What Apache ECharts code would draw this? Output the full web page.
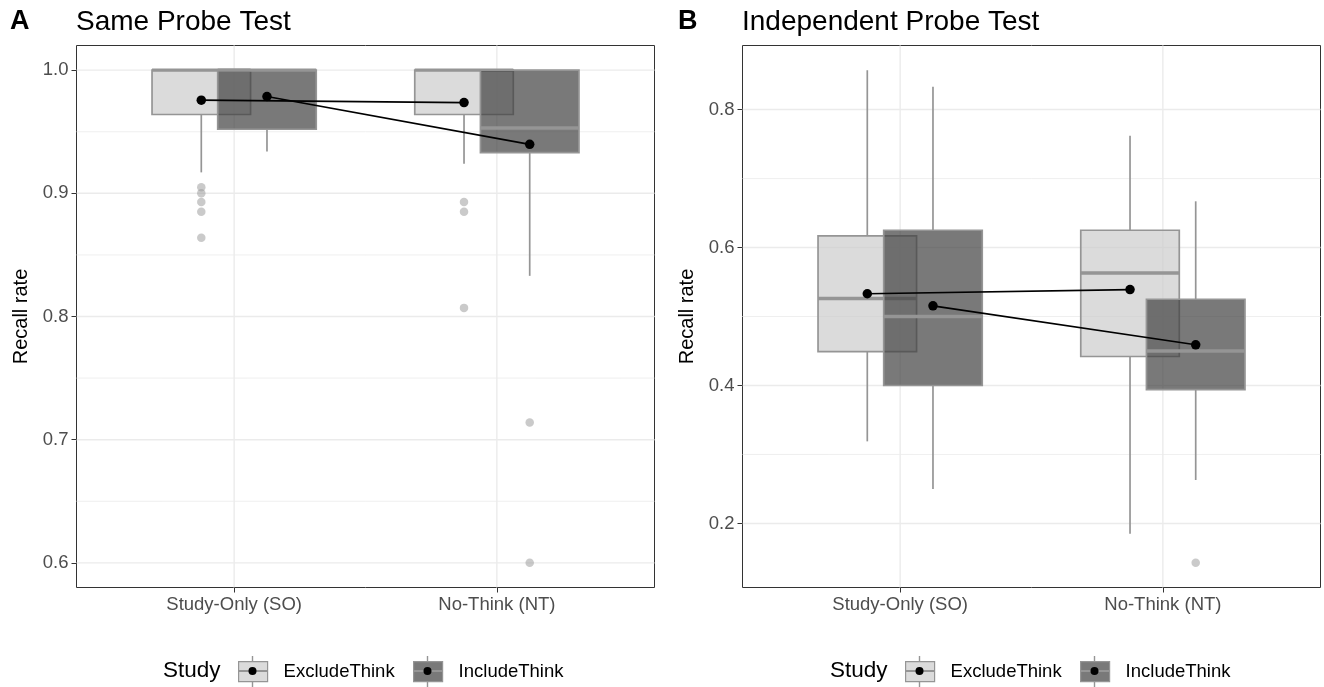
<!DOCTYPE html>
<html>
<head>
<meta charset="utf-8">
<script src="https://cdn.jsdelivr.net/npm/echarts@6/dist/echarts.min.js"></script>
<style>html,body{margin:0;padding:0;background:#fff;}#chart{width:1324px;height:687px;}</style>
</head>
<body>
<div id="chart"></div>
<script>
// ---------- data ----------
const categories = ['Study-Only (SO)', 'No-Think (NT)'];
const studies = ['ExcludeThink', 'IncludeThink'];

// box stats per category: [lowerWhisker, q1, median, q3, upperWhisker]
// Panel A: Same Probe Test
const sameExcludeStats = [[0.917, 0.964, 1.0, 1.0, 1.0], [0.924, 0.964, 1.0, 1.0, 1.0]];
const sameIncludeStats = [[0.934, 0.952, 1.0, 1.0, 1.0], [0.833, 0.933, 0.953, 1.0, 1.0]];
const sameExcludeMeans = [0.9756, 0.9737];
const sameIncludeMeans = [0.9786, 0.9398];
const sameExcludeOutliers = [[0.905, 0.900, 0.893, 0.885, 0.864], [0.893, 0.885, 0.807]];
const sameIncludeOutliers = [[], [0.714, 0.600]];

// Panel B: Independent Probe Test
const indepExcludeStats = [[0.319, 0.449, 0.526, 0.617, 0.857], [0.185, 0.442, 0.563, 0.625, 0.762]];
const indepIncludeStats = [[0.250, 0.400, 0.500, 0.625, 0.833], [0.263, 0.394, 0.450, 0.525, 0.667]];
const indepExcludeMeans = [0.533, 0.539];
const indepIncludeMeans = [0.5155, 0.459];
const indepExcludeOutliers = [[], []];
const indepIncludeOutliers = [[], [0.143]];

// axis ticks
const yTicksA = [0.6, 0.7, 0.8, 0.9, 1.0];
const yMinorA = [0.65, 0.75, 0.85, 0.95];
const yTicksB = [0.2, 0.4, 0.6, 0.8];
const yMinorB = [0.3, 0.5, 0.7];
const xTicks = [1, 2];

// ---------- style / layout constants ----------
const FONT = "'Liberation Sans', Arial, Helvetica, sans-serif";
const DODGE = 0.125;
const BOX_W = 0.375;
const OUTLINE = '#959595';
const FILL = { ExcludeThink: 'rgba(204,204,204,0.7)', IncludeThink: 'rgba(64,64,64,0.7)' };
const KEYFILL = { ExcludeThink: '#dbdbdb', IncludeThink: '#797979' };
const OFFSET = { ExcludeThink: -DODGE, IncludeThink: DODGE };
const GRID_COLOR = '#ebebeb';
const TICK_FS = 18.5;

const panels = [
  { left: 76.5, yMin: 0.58, yMax: 1.02, ticks: yTicksA, minor: yMinorA,
    stats: { ExcludeThink: sameExcludeStats, IncludeThink: sameIncludeStats },
    means: { ExcludeThink: sameExcludeMeans, IncludeThink: sameIncludeMeans },
    outliers: { ExcludeThink: sameExcludeOutliers, IncludeThink: sameIncludeOutliers } },
  { left: 742.5, yMin: 0.10714, yMax: 0.89286, ticks: yTicksB, minor: yMinorB,
    stats: { ExcludeThink: indepExcludeStats, IncludeThink: indepIncludeStats },
    means: { ExcludeThink: indepExcludeMeans, IncludeThink: indepIncludeMeans },
    outliers: { ExcludeThink: indepExcludeOutliers, IncludeThink: indepIncludeOutliers } }
];

const chart = echarts.init(document.getElementById('chart'), null, { renderer: 'canvas' });

const grids = [], xAxes = [], yAxes = [], series = [];

panels.forEach((p, i) => {
  grids.push({ left: p.left, top: 45.5, width: 578, height: 542, show: true,
    borderColor: '#333333', borderWidth: 1, backgroundColor: '#fff', containLabel: false });
  xAxes.push({ type: 'value', gridIndex: i, min: 0.4, max: 2.6,
    axisLine: { show: false }, splitLine: { show: false },
    axisTick: { show: true, length: 5, customValues: xTicks, lineStyle: { color: '#333333', width: 1 } },
    axisLabel: { customValues: xTicks, margin: 8, color: '#4d4d4d', fontSize: TICK_FS, fontFamily: FONT,
      formatter: v => categories[Math.round(v) - 1] || '' } });
  yAxes.push({ type: 'value', gridIndex: i, min: p.yMin, max: p.yMax,
    name: 'Recall rate', nameLocation: 'middle', nameGap: 45,
    nameTextStyle: { fontSize: 20, color: '#000', fontFamily: FONT },
    axisLine: { show: false }, splitLine: { show: false },
    axisTick: { show: true, length: 5, customValues: p.ticks, lineStyle: { color: '#333333', width: 1 } },
    axisLabel: { customValues: p.ticks, margin: 8, color: '#4d4d4d', fontSize: TICK_FS, fontFamily: FONT,
      formatter: v => v.toFixed(1) } });

  // grid lines (major / minor), drawn through the axes' scales
  const gridData = [];
  p.ticks.forEach(v => gridData.push([v, 0, 1]));
  p.minor.forEach(v => gridData.push([v, 0, 0]));
  xTicks.forEach(v => gridData.push([v, 1, 1]));
  series.push({ type: 'custom', xAxisIndex: i, yAxisIndex: i, silent: true, z: 0,
    data: gridData,
    encode: { x: -1, y: -1 },
    renderItem: (params, api) => {
      const cs = params.coordSys;
      const v = api.value(0), kind = api.value(1), major = api.value(2);
      const lw = major ? 1.4 : 0.8;
      if (kind === 0) {
        const y = api.coord([1, v])[1];
        return { type: 'line', shape: { x1: cs.x, y1: y, x2: cs.x + cs.width, y2: y },
          style: { stroke: GRID_COLOR, lineWidth: lw } };
      }
      const x = api.coord([v, (p.yMin + p.yMax) / 2])[0];
      return { type: 'line', shape: { x1: x, y1: cs.y, x2: x, y2: cs.y + cs.height },
        style: { stroke: GRID_COLOR, lineWidth: lw } };
    } });

  // boxes
  studies.forEach(s => {
    const off = OFFSET[s];
    const data = p.stats[s].map((st, ci) => [ci + 1, st[0], st[1], st[2], st[3], st[4]]);
    series.push({ name: s, type: 'custom', xAxisIndex: i, yAxisIndex: i, z: 2,
      itemStyle: { color: KEYFILL[s] },
      data: data, encode: { x: 0, y: [1, 2, 3, 4, 5] },
      renderItem: (params, api) => {
        const x = api.value(0) + off;
        const lo = api.value(1), q1 = api.value(2), med = api.value(3), q3 = api.value(4), hi = api.value(5);
        const tl = api.coord([x - BOX_W / 2, q3]);
        const br = api.coord([x + BOX_W / 2, q1]);
        const mL = api.coord([x - BOX_W / 2, med]);
        const mR = api.coord([x + BOX_W / 2, med]);
        const cHi = api.coord([x, hi]), cQ3 = api.coord([x, q3]);
        const cQ1 = api.coord([x, q1]), cLo = api.coord([x, lo]);
        return { type: 'group', children: [
          { type: 'line', shape: { x1: cHi[0], y1: cHi[1], x2: cQ3[0], y2: cQ3[1] },
            style: { stroke: OUTLINE, lineWidth: 1.7 } },
          { type: 'line', shape: { x1: cQ1[0], y1: cQ1[1], x2: cLo[0], y2: cLo[1] },
            style: { stroke: OUTLINE, lineWidth: 1.7 } },
          { type: 'rect', shape: { x: tl[0], y: tl[1], width: br[0] - tl[0], height: br[1] - tl[1] },
            style: { fill: FILL[s], stroke: OUTLINE, lineWidth: 1.7 } },
          { type: 'line', shape: { x1: mL[0], y1: mL[1], x2: mR[0], y2: mR[1] },
            style: { stroke: OUTLINE, lineWidth: 3.4 } }
        ] };
      } });
  });

  // outliers
  studies.forEach(s => {
    const pts = [];
    p.outliers[s].forEach((arr, ci) => arr.forEach(v => pts.push([ci + 1 + OFFSET[s], v])));
    series.push({ type: 'scatter', xAxisIndex: i, yAxisIndex: i, z: 3, silent: true,
      symbol: 'circle', symbolSize: 8.5, data: pts,
      itemStyle: { color: 'rgba(153,153,153,0.65)' } });
  });

  // mean lines + points
  studies.forEach(s => {
    series.push({ type: 'line', xAxisIndex: i, yAxisIndex: i, z: 4, silent: true,
      data: p.means[s].map((m, ci) => [ci + 1 + OFFSET[s], m]),
      symbol: 'circle', symbolSize: 9.5, showSymbol: true,
      lineStyle: { color: '#000', width: 1.7 }, itemStyle: { color: '#000' } });
  });
});

// legends (one item per component so positions match the reference)
const legendPos = [
  { s: 'ExcludeThink', left: 238 }, { s: 'IncludeThink', left: 413 },
  { s: 'ExcludeThink', left: 905 }, { s: 'IncludeThink', left: 1080 }
];
const legends = legendPos.map(l => ({
  left: l.left, top: 661, padding: 0, itemWidth: 29, itemHeight: 20, selectedMode: false,
  textStyle: { fontSize: 18.5, color: '#000', fontFamily: FONT, padding: [0, 0, 0, 11] },
  data: [{ name: l.s, icon: 'rect', itemStyle: { color: KEYFILL[l.s], borderColor: OUTLINE, borderWidth: 1.2 } }]
}));

// legend key decorations (median, whisker stubs, mean dot)
const graphics = [];
legendPos.forEach(l => {
  const cx = l.left + 14.5;
  graphics.push({ type: 'line', shape: { x1: cx, y1: 656, x2: cx, y2: 661 }, style: { stroke: OUTLINE, lineWidth: 1.4 }, silent: true, z: 100 });
  graphics.push({ type: 'line', shape: { x1: cx, y1: 681, x2: cx, y2: 687 }, style: { stroke: OUTLINE, lineWidth: 1.4 }, silent: true, z: 100 });
  graphics.push({ type: 'line', shape: { x1: l.left, y1: 671, x2: l.left + 29, y2: 671 }, style: { stroke: OUTLINE, lineWidth: 2 }, silent: true, z: 100 });
  graphics.push({ type: 'circle', shape: { cx: cx, cy: 671, r: 4 }, style: { fill: '#000' }, silent: true, z: 101 });
});

const titleStyle = (bold, size) => ({ fontSize: size, fontWeight: bold ? 'bold' : 'normal', color: '#000', fontFamily: FONT });
const titles = [
  { text: 'A', left: 10, top: 8, padding: 0, textStyle: titleStyle(true, 27) },
  { text: 'Same Probe Test', left: 76, top: 8, padding: 0, textStyle: titleStyle(false, 28) },
  { text: 'B', left: 678, top: 8, padding: 0, textStyle: titleStyle(true, 27) },
  { text: 'Independent Probe Test', left: 742, top: 8, padding: 0, textStyle: titleStyle(false, 28) },
  { text: 'Study', left: 163, top: 659, padding: 0, textStyle: titleStyle(false, 22.5) },
  { text: 'Study', left: 830, top: 659, padding: 0, textStyle: titleStyle(false, 22.5) }
];

chart.setOption({
  animation: false,
  backgroundColor: '#fff',
  textStyle: { fontFamily: FONT },
  title: titles,
  legend: legends,
  grid: grids,
  xAxis: xAxes,
  yAxis: yAxes,
  series: series,
  graphic: graphics
});
</script>
</body>
</html>
